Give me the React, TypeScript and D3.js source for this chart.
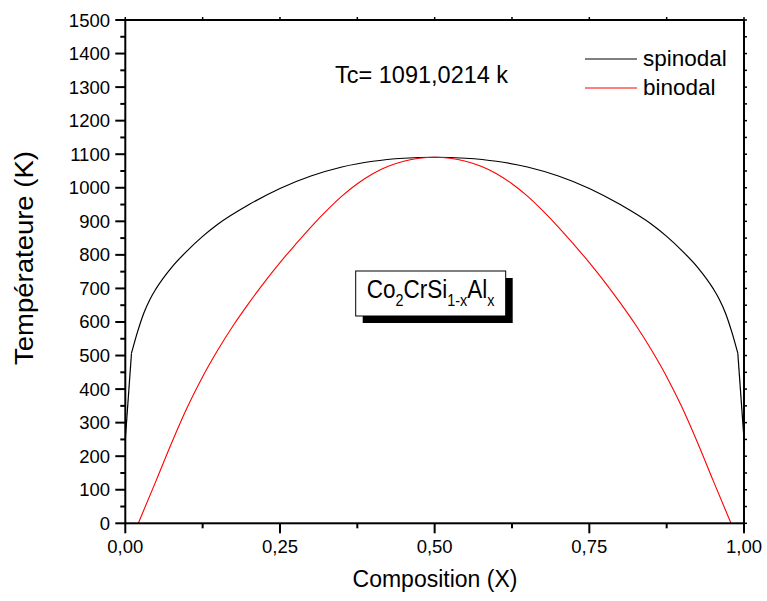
import React from 'react';
import * as d3 from 'd3';

const xTickValues = [0, 0.25, 0.5, 0.75, 1.0];
const xTickLabels = ['0,00', '0,25', '0,50', '0,75', '1,00'];
const xMinorValues = [0.125, 0.375, 0.625, 0.875];
const yTickValues = [0, 100, 200, 300, 400, 500, 600, 700, 800, 900, 1000, 1100, 1200, 1300, 1400, 1500];
const yMinorValues = [50, 150, 250, 350, 450, 550, 650, 750, 850, 950, 1050, 1150, 1250, 1350, 1450];

// spinodal: steep end pieces (drawn straight) + smooth dome
const spinEdgeLeftX = [0, 0.01];
const spinEdgeLeftT = [250, 507];
const spinX = [0.01, 0.02, 0.03, 0.04, 0.05, 0.075, 0.10, 0.125, 0.15, 0.20, 0.25, 0.30, 0.35, 0.40, 0.45, 0.50,
  0.55, 0.60, 0.65, 0.70, 0.75, 0.80, 0.85, 0.875, 0.90, 0.925, 0.95, 0.96, 0.97, 0.98, 0.99];
const spinT = [507, 572, 627, 668, 700, 763, 812, 855, 892, 950, 998, 1035, 1062, 1079, 1088, 1091,
  1088, 1079, 1062, 1035, 998, 950, 892, 855, 812, 763, 700, 668, 627, 572, 507];
const spinEdgeRightX = [0.99, 1.0];
const spinEdgeRightT = [507, 250];

const binX = [0.021, 0.05, 0.075, 0.10, 0.125, 0.15, 0.175, 0.20, 0.225, 0.25, 0.275, 0.30, 0.325, 0.35, 0.375,
  0.40, 0.425, 0.45, 0.475, 0.50, 0.525, 0.55, 0.575, 0.60, 0.625, 0.65, 0.675, 0.70, 0.725, 0.75, 0.775,
  0.80, 0.825, 0.85, 0.875, 0.90, 0.925, 0.95, 0.979];
const binT = [0, 128, 240, 345, 437, 518, 591, 657, 719, 777, 831, 883, 931, 975, 1012,
  1042, 1064, 1079, 1088, 1091, 1088, 1079, 1064, 1042, 1012, 975, 931, 883, 831, 777, 719,
  657, 591, 518, 437, 345, 240, 128, 0];

const W = 767, H = 601;
const L = 125.3, R = 744, T = 20, B = 523.3;
const FONT = '"Liberation Sans", Arial, sans-serif';

export default function App() {
  const x = d3.scaleLinear().domain([0, 1]).range([L, R]);
  const y = d3.scaleLinear().domain([0, 1500]).range([B, T]);
  const smooth = d3.line<[number, number]>().x(d => x(d[0])).y(d => y(d[1])).curve(d3.curveMonotoneX);
  const straight = d3.line<[number, number]>().x(d => x(d[0])).y(d => y(d[1]));
  const pts = (xs: number[], ts: number[]) => xs.map((v, i) => [v, ts[i]] as [number, number]);
  const spin = smooth(pts(spinX, spinT)) || '';
  const spinL = straight(pts(spinEdgeLeftX, spinEdgeLeftT)) || '';
  const spinR = straight(pts(spinEdgeRightX, spinEdgeRightT)) || '';
  const bin = smooth(pts(binX, binT)) || '';

  return (
    <svg width={W} height={H} style={{ position: 'absolute', left: 0, top: 0, background: '#fff' }} fontFamily={FONT}>
      <rect x={0} y={0} width={W} height={H} fill="#fff" />
      {/* curves */}
      <path d={spinL} fill="none" stroke="#000" strokeWidth={1.2} />
      <path d={spin} fill="none" stroke="#000" strokeWidth={1.2} />
      <path d={spinR} fill="none" stroke="#000" strokeWidth={1.2} />
      <path d={bin} fill="none" stroke="#ff0000" strokeWidth={1.1} />
      {/* frame */}
      <rect x={L} y={T} width={R - L} height={B - T} fill="none" stroke="#000" strokeWidth={2} />
      {/* bottom ticks */}
      {xTickValues.map((v, i) => (
        <g key={'xt' + i}>
          <line x1={x(v)} x2={x(v)} y1={B} y2={B + 10} stroke="#000" strokeWidth={2} />
          <line x1={x(v)} x2={x(v)} y1={T} y2={T - 3} stroke="#000" strokeWidth={1.5} />
          <text x={x(v)} y={553} textAnchor="middle" fontSize={18.5}>{xTickLabels[i]}</text>
        </g>
      ))}
      {xMinorValues.map((v, i) => (
        <g key={'xm' + i}>
          <line x1={x(v)} x2={x(v)} y1={B} y2={B + 5} stroke="#000" strokeWidth={2} />
          <line x1={x(v)} x2={x(v)} y1={T} y2={T - 3} stroke="#000" strokeWidth={1.5} />
        </g>
      ))}
      {yTickValues.map((v, i) => (
        <g key={'yt' + i}>
          <line x1={L} x2={L - 10} y1={y(v)} y2={y(v)} stroke="#000" strokeWidth={2} />
          <line x1={R} x2={R + 3} y1={y(v)} y2={y(v)} stroke="#000" strokeWidth={1.5} />
          <text x={110} y={y(v) + 6.5} textAnchor="end" fontSize={18.5}>{String(v)}</text>
        </g>
      ))}
      {yMinorValues.map((v, i) => (
        <g key={'ym' + i}>
          <line x1={L} x2={L - 5} y1={y(v)} y2={y(v)} stroke="#000" strokeWidth={2} />
          <line x1={R} x2={R + 3} y1={y(v)} y2={y(v)} stroke="#000" strokeWidth={1.5} />
        </g>
      ))}
      {/* axis titles */}
      <text x={435} y={587} textAnchor="middle" fontSize={23}>Composition (X)</text>
      <text transform="translate(33,258) rotate(-90) scale(1.1,1)" textAnchor="middle" fontSize={25}>Températeure (K)</text>
      {/* Tc annotation */}
      <text x={335} y={83} fontSize={23.5}>Tc= 1091,0214 k</text>
      {/* legend */}
      <line x1={585} x2={637} y1={59} y2={59} stroke="#000" strokeWidth={1} />
      <text x={643} y={66} fontSize={22.5}>spinodal</text>
      <line x1={585} x2={637} y1={88} y2={88} stroke="#ff0000" strokeWidth={1} />
      <text x={643} y={95} fontSize={22.5}>binodal</text>
      {/* compound label */}
      <rect x={362.7} y={278} width={150} height={45} fill="#000" />
      <rect x={355.7} y={271} width={150} height={45} fill="#fff" stroke="#000" strokeWidth={1} />
      <text transform="translate(366.7,298) scale(0.9,1)" fontSize={25}>
        Co<tspan fontSize={16} dy={8}>2</tspan>
        <tspan dy={-8}>CrSi</tspan>
        <tspan fontSize={16} dy={8}>1-x</tspan>
        <tspan dy={-8}>Al</tspan>
        <tspan fontSize={16} dy={8}>x</tspan>
      </text>
    </svg>
  );
}
